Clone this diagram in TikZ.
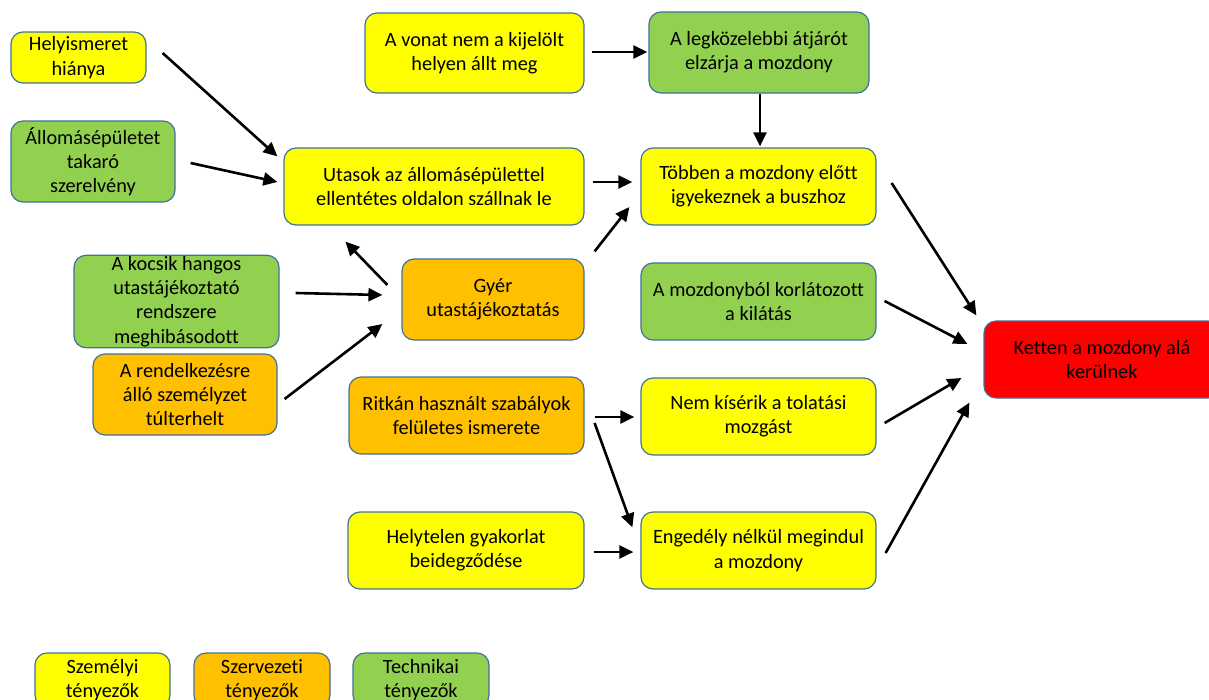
\documentclass[tikz,border=0pt]{standalone}
\usepackage{fontspec}
\setmainfont{Carlito}[Ligatures = NoCommon]
\usepackage{tikz}
\usetikzlibrary{arrows.meta}
\usetikzlibrary{calc}
\definecolor{frame}{HTML}{41719C}
\definecolor{szemelyi}{HTML}{FFFF00}
\definecolor{szervezeti}{HTML}{FFC000}
\definecolor{technikai}{HTML}{92D050}
\definecolor{vegso}{HTML}{FF0000}
\tikzset{box/.style = {draw = frame, line width = 1.2pt, rounded corners = 12pt, align = center,
    inner sep = 1pt, font = \fontsize{20.3}{24.3}\selectfont},
  ybox/.style = {box, fill = szemelyi},
  obox/.style = {box, fill = szervezeti},
  gbox/.style = {box, fill = technikai},
  rbox/.style = {box, fill = vegso},
  arr/.style = {line width = 2.6pt, -{Triangle[length = 14pt, width = 13pt]}}}

\begin{document}
\begin{tikzpicture}[x = 1pt, y = -1pt]
    \useasboundingbox (0, 0) rectangle (1209, 699);
    \clip (0, 0) rectangle (1209, 699);

    \node [ybox, minimum width = 135, minimum height = 51] (helyism) at (78.5, 57.5) {Helyismeret\\hiánya};
    \node [gbox, minimum width = 164, minimum height = 81] (allomas) at (93, 161.5) {Állomásépületet\\takaró\\szerelvény};
    \node [ybox, minimum width = 219, minimum height = 80] (vonat) at (474.5, 53) {A vonat nem a kijelölt\\helyen állt meg};
    \node [gbox, minimum width = 220, minimum height = 81] (legkoz) at (759, 52.5) {A legközelebbi átjárót\\elzárja a mozdony};
    \node [ybox, minimum width = 300, minimum height = 77] (utasok) at (434, 186.5) {Utasok az állomásépülettel\\ellentétes oldalon szállnak le};
    \node [ybox, minimum width = 235, minimum height = 77] (tobben) at (758.5, 186.5) {Többen a mozdony előtt\\igyekeznek a buszhoz};
    \node [gbox, minimum width = 205, minimum height = 91] (kocsik) at (176.5, 301.5) {A kocsik hangos\\utastájékoztató\\rendszere\\meghibásodott};
    \node [obox, minimum width = 184, minimum height = 81] (rendelk) at (185, 394.5) {A rendelkezésre\\álló személyzet\\túlterhelt};
    \node [obox, minimum width = 182, minimum height = 81] (gyer) at (493, 299.5) {Gyér\\utastájékoztatás};
    \node [gbox, minimum width = 235, minimum height = 77] (kilatas) at (758.5, 301.5) {A mozdonyból korlátozott\\a kilátás};
    \node [rbox, minimum width = 236, minimum height = 77] (ketten) at (1102, 359.5) {Ketten a mozdony alá\\kerülnek};
    \node [obox, minimum width = 235, minimum height = 77] (ritkan) at (466.5, 415.5) {Ritkán használt szabályok\\felületes ismerete};
    \node [ybox, minimum width = 235, minimum height = 77] (nemkis) at (758.5, 416.5) {Nem kísérik a tolatási\\mozgást};
    \node [ybox, minimum width = 236, minimum height = 77] (helytel) at (466, 550.5) {Helytelen gyakorlat\\beidegződése};
    \node [ybox, minimum width = 235, minimum height = 77] (engedely) at (758.5, 550.5) {Engedély nélkül megindul\\a mozdony};

    % jelmagyarazat
    \node [ybox, minimum width = 135, minimum height = 54] (lszem) at (102.5, 680) {Személyi\\tényezők};
    \node [obox, minimum width = 136, minimum height = 54] (lszerv) at (262, 680) {Szervezeti\\tényezők};
    \node [gbox, minimum width = 136, minimum height = 54] (ltech) at (421, 680) {Technikai\\tényezők};

    \draw [arr] ($(helyism.east) + (16, -4.5)$) -- ($(utasok.north west) + (-6, 9)$);
    \draw [arr] ($(allomas.east) + (15, 1.5)$) -- ($(utasok.west) + (-6, -4.5)$);
    \draw [arr] ($(gyer.west) + (-14, -14.5)$) -- ($(utasok.south west) + (62, 16)$);
    \draw [arr] ($(kocsik.east) + (16, -8.5)$) -- ($(gyer.west) + (-19, -4.5)$);
    \draw [arr] ($(rendelk.east) + (7, 4.5)$) -- ($(gyer.west) + (-19, 24.5)$);
    \draw [arr] ($(gyer.north east) + (10, -7)$) -- ($(tobben.west) + (-11, 20.5)$);
    \draw [arr] ($(utasok.east) + (8, -4.5)$) -- ($(tobben.west) + (-8, -4.5)$);
    \draw [arr] ($(vonat.east) + (7, -1)$) -- ($(legkoz.west) + (-1, -0.5)$);
    \draw [arr] ($(legkoz.south) + (1, 0)$) -- ($(tobben.north) + (1.5, -1)$);

    \draw [arr] ($(tobben.east) + (15, -3.5)$) -- ($(ketten.north west) + (-7, -5)$);
    \draw [arr] ($(kilatas.east) + (8, -0.5)$) -- ($(ketten.west) + (-16, -15.5)$);
    \draw [arr] ($(nemkis.east) + (8, 6.5)$) -- ($(ketten.west) + (-22, 18.5)$);
    \draw [arr] ($(engedely.east) + (9, 2.5)$) -- ($(ketten.south west) + (-14, 4)$);

    \draw [arr] ($(ritkan.east) + (10, 1.5)$) -- ($(nemkis.west) + (-6, 0.5)$);
    \draw [arr] ($(ritkan.east) + (10, 7.5)$) -- ($(engedely.north west) + (-8, 16)$);
    \draw [arr] ($(helytel.east) + (9, 1.5)$) -- ($(engedely.west) + (-7, 1.5)$);
\end{tikzpicture}
\end{document}
